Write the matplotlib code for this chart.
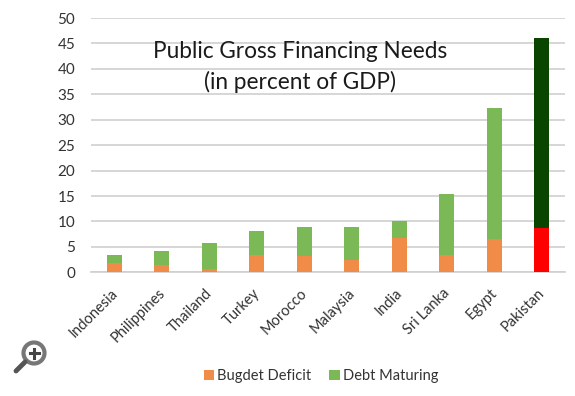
import matplotlib
matplotlib.use("Agg")
import matplotlib.pyplot as plt
from matplotlib.patches import Circle
from matplotlib.transforms import ScaledTranslation

countries = ["Indonesia", "Philippines", "Thailand", "Turkey", "Morocco",
             "Malaysia", "India", "Sri Lanka", "Egypt", "Pakistan"]
deficit = [1.8, 1.4, 0.7, 3.4, 3.3, 2.4, 6.7, 3.4, 6.5, 8.7]
debt = [1.6, 2.85, 5.1, 4.8, 5.55, 6.6, 3.45, 12.0, 25.8, 37.3]
yticks = [0, 5, 10, 15, 20, 25, 30, 35, 40, 45, 50]

ORANGE = "#F08C47"
GREEN = "#7AB956"

plt.rcParams["font.family"] = ["Lato", "DejaVu Sans"]

W, H = 575, 396
fig = plt.figure(figsize=(W / 100, H / 100), dpi=100)
ax = fig.add_axes([90.6 / W, 1 - 272.3 / H, (565.4 - 90.6) / W, (272.3 - 18) / H])

# Pakistan gets its own colours so it stands out
deficit_colors = [ORANGE] * 9 + ["#FF0000"]
debt_colors = [GREEN] * 9 + ["#0A4500"]

x = list(range(len(countries)))
b1 = ax.bar(x, deficit, width=0.32, color=deficit_colors, label="Bugdet Deficit", zorder=3)
b2 = ax.bar(x, debt, width=0.32, bottom=deficit, color=debt_colors, label="Debt Maturing", zorder=3)

ax.set_xlim(-0.5, 9.5)
ax.set_ylim(0, 50)
ax.set_yticks(yticks)
ax.set_xticks(x)
ax.set_xticklabels(countries, rotation=45, ha="right", va="top", rotation_mode="anchor")
ax.tick_params(length=0, labelsize=10.5, colors="#333333", pad=10)
ax.tick_params(axis="y", pad=11, labelsize=11)
ax.grid(axis="y", color="#CFCFCF", lw=1.2, zorder=0)
ax.set_axisbelow(True)
for name in ["top", "left", "right"]:
    ax.spines[name].set_visible(False)
ax.spines["bottom"].set_color("#CFCFCF")
ax.spines["bottom"].set_linewidth(1.2)

# nudge the slanted labels a little to the left
shift = ScaledTranslation(-4 / 100, 0, fig.dpi_scale_trans)
for lab in ax.get_xticklabels():
    lab.set_transform(lab.get_transform() + shift)

fig.text(300 / W, 1 - 52 / H, "Public Gross Financing Needs", ha="center", va="center",
         fontsize=16.3, color="#1A1A1A")
fig.text(300 / W, 1 - 82 / H, "(in percent of GDP)", ha="center", va="center",
         fontsize=16.3, color="#1A1A1A")

handles = [b1[0], b2[0]]
fig.legend(handles, ["Bugdet Deficit", "Debt Maturing"], ncol=2, frameon=False,
           loc="center", bbox_to_anchor=(321 / W, 1 - 376 / H), fontsize=10.5,
           handlelength=0.7, handleheight=0.7, handletextpad=0.2, columnspacing=1.25,
           labelcolor="#333333")

# magnifier icon in the lower left, drawn in pixel units
icon = fig.add_axes([0, 0, 1, 1])
icon.set_xlim(0, W)
icon.set_ylim(H, 0)
icon.axis("off")
icon.patch.set_alpha(0)
icon.plot([25, 16], [362, 371], color="#555555", lw=3.5, solid_capstyle="round")
icon.add_patch(Circle((34, 353), 10.5, fc="white", ec="#777777", lw=3))
icon.plot([29.5, 38.5], [353, 353], color="#444444", lw=2.2)
icon.plot([34, 34], [348.5, 357.5], color="#444444", lw=2.2)

fig.savefig("out.png", dpi=100)
